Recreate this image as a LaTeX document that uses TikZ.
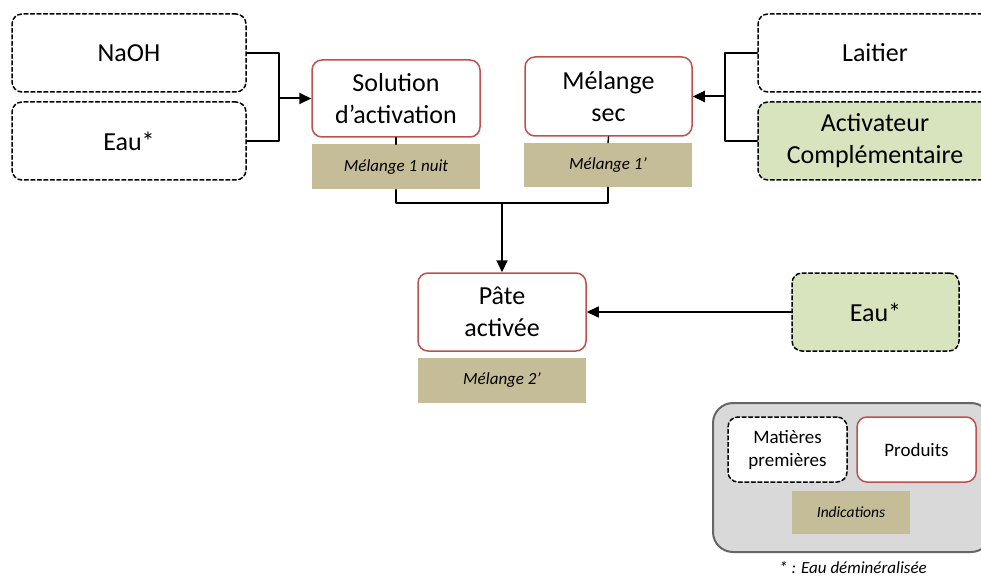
\documentclass[tikz,border=0pt]{standalone}
\usepackage{fontspec}
\setmainfont{Carlito}
\usetikzlibrary{arrows.meta}

\definecolor{produitred}{HTML}{C0504D}
\definecolor{notetan}{HTML}{C4BD97}
\definecolor{activgreen}{HTML}{D7E4BD}
\definecolor{legendfill}{HTML}{D9D9D9}
\definecolor{legendline}{HTML}{666666}

\begin{document}
\begin{tikzpicture}[
	x=1pt, y=-1pt,
	every node/.style={font=\fontsize{26}{32}\selectfont, align=center, inner sep=0pt},
	matiere/.style={draw, dash pattern=on 4pt off 2.5pt, rounded corners=10pt, line width=1.5pt, minimum width=234pt, minimum height=78pt},
	produit/.style={draw=produitred, fill=white, rounded corners=10pt, line width=1.5pt, minimum width=168pt, minimum height=78pt},
	indication/.style={fill=notetan, minimum width=168pt, minimum height=45pt, font=\fontsize{17}{20}\selectfont\itshape},
	lien/.style={line width=1.4pt},
	fleche/.style={line width=2pt, -{Triangle[length=12pt, width=11pt]}},
	line cap=round,
	line join=round
	]
	
	\clip (0,0) rectangle (981,577);
	
	% matieres premieres
	\node[matiere] (naoh) at (129,53) {NaOH};
	\node[matiere] (eau) at (129,141) {Eau*};
	\node[matiere] (laitier) at (875,53) {Laitier};
	\node[matiere, fill=activgreen] (activ) at (875,141) {Activateur\\Complémentaire};
	\node[matiere, fill=activgreen, minimum width=167pt] (eaubis) at (875.5,312) {Eau*};
	
	% produits
	\node[produit, minimum height=77pt] (sol) at (396,98.5) {Solution\\d’activation};
	\node[produit, minimum width=167pt, minimum height=79pt] (sec) at (608.5,96.5) {Mélange\\sec};
	\node[produit] (pate) at (502,312) {Pâte\\activée};
	
	% indications
	\node[indication] (ind1) at (396,167) {Mélange 1 nuit};
	\node[indication, minimum height=44pt] (ind2) at (608,165) {Mélange 1’};
	\node[indication] (ind3) at (502,380.5) {Mélange 2’};
	
	% liens
	\coordinate (jsol) at (279,98.5);
	\coordinate (jsec) at (725,96.5);
	\coordinate (jpate) at (502,203);
	
	\draw[lien] (naoh.east) -| (jsol);
	\draw[lien] (eau.east) -| (jsol);
	\draw[fleche] (jsol) -- (sol.west);
	
	\draw[lien] (laitier.west) -| (jsec);
	\draw[lien] (activ.west) -| (jsec);
	\draw[fleche] (jsec) -- (sec.east);
	
	\draw[lien] (sol.south) -- (ind1.north);
	\draw[lien] (sec.south) -- (ind2.north);
	\draw[lien] (ind1.south) |- (jpate);
	\draw[lien] (ind2.south) |- (jpate);
	\draw[fleche] (jpate) -- (pate.north);
	
	\draw[fleche, line width=1.6pt] (eaubis.west) -- (pate.east);
	
	% legende
	\node[draw=legendline, fill=legendfill, line width=2pt, rounded corners=20pt, minimum width=278pt, minimum height=149pt] (legende) at (852,477.5) {};
	\node[matiere, fill=white, minimum width=119pt, minimum height=65pt, font=\fontsize{19}{23}\selectfont] (legmat) at (787.5,449.5) {Matières\\premières};
	\node[produit, minimum width=119pt, minimum height=65pt, font=\fontsize{19}{23}\selectfont] (legprod) at (916.5,449.5) {Produits};
	\node[indication, minimum width=118pt, minimum height=43pt, font=\fontsize{15.5}{18}\selectfont\itshape] (legind) at (851,512.5) {Indications};
	\node[font=\fontsize{17}{20}\selectfont\itshape] (renvoi) at (853,568) {* : Eau déminéralisée};
	
\end{tikzpicture}
\end{document}
